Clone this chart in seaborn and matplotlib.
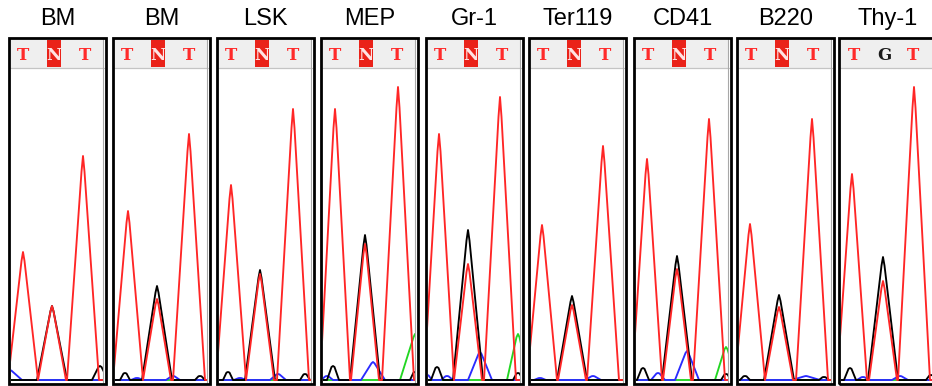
import numpy as np
import pandas as pd
import matplotlib
matplotlib.use("Agg")
import matplotlib.pyplot as plt
import seaborn as sns
from matplotlib.patches import Rectangle
from matplotlib.lines import Line2D

# ---------------- data ----------------
titles = ["BM", "BM", "LSK", "MEP", "Gr-1", "Ter119", "CD41", "B220", "Thy-1"]
base_calls = [["T", "N", "T"]] * 8 + [["T", "G", "T"]]

# red (T) trace: peak positions / heights per panel
red_pos = [[15, 44, 75], [16, 45, 77], [15, 44, 77], [15, 45, 78], [14, 43, 75],
           [14, 44, 75], [14, 44, 76], [14, 43, 76], [14, 45, 76]]
red_h = [[128, 74, 224], [169, 81, 246], [195, 106, 271], [271, 136, 293], [246, 116, 283],
         [155, 75, 234], [221, 111, 261], [156, 73, 261], [206, 99, 293]]
red_w = [15, 14, 16]

# black (G) trace: (position, height, half-width)
black_peaks = [
    [(44, 74, 15), (92, 14, 8)],
    [(13, 7, 5), (45, 94, 15), (88, 4, 5)],
    [(12, 8, 5), (44, 110, 15), (89, 6, 5)],
    [(13, 14, 6), (45, 145, 15), (95, 8, 5)],
    [(12, 13, 6), (43, 150, 15), (93, 7, 5)],
    [(44, 84, 15)],
    [(10, 12, 6), (44, 124, 15), (93, 6, 5)],
    [(9, 4, 5), (43, 85, 15), (88, 3, 5)],
    [(12, 12, 6), (45, 123, 15), (93, 5, 5)],
]
# blue (C) trace
blue_peaks = [
    [(2, 10, 12)],
    [(25, 2, 6), (61, 4, 7)],
    [(24, 2, 6), (62, 6, 8)],
    [(7, 4, 6), (53, 18, 12)],
    [(2, 5, 5), (22, 4, 6), (55, 28, 12)],
    [(12, 2, 6), (65, 4, 8)],
    [(25, 7, 7), (54, 29, 12)],
    [(70, 4, 14)],
    [(25, 3, 6), (62, 4, 8)],
]
# green (A) trace
green_peaks = [[], [], [], [(95, 46, 15)], [(93, 46, 11)], [], [(93, 33, 11)], [], []]

# ---------------- layout ----------------
W, H = 932, 386
panel_left = [8, 112, 216, 320, 425, 528, 633, 736, 838]
palette = {"A": "#22d622", "C": "#2a2aff", "G": "#000000", "T": "#ff2626"}

sns.set_style("white")
plt.rcParams["font.family"] = ["Liberation Sans", "DejaVu Sans"]

fig = plt.figure(figsize=(W / 100, H / 100), dpi=100)


def fx(x):
    return x / W


def fy(y):
    return 1 - y / H


def build_trace(peaks):
    knots = {0.0, 98.0}
    for c, h, w in peaks:
        for k in (c - w, c - 1.5, c, c + 1.5, c + w):
            if 0 <= k <= 98:
                knots.add(float(k))
    xs = np.array(sorted(knots))
    ys = np.zeros_like(xs)
    for c, h, w in peaks:
        ys = np.maximum(ys, np.interp(xs, [c - w, c - 1.5, c, c + 1.5, c + w],
                                      [0, 0.93 * h, h, 0.93 * h, 0], left=0, right=0))
    return xs, ys


for i, L in enumerate(panel_left):
    red_peaks = [(p, h, w) for p, h, w in zip(red_pos[i], red_h[i], red_w)]
    frames = []
    for ch, pk in (("A", green_peaks[i]), ("C", blue_peaks[i]),
                   ("G", black_peaks[i]), ("T", red_peaks)):
        xs, ys = build_trace(pk)
        frames.append(pd.DataFrame({"x": xs, "y": ys, "ch": ch}))
    df = pd.concat(frames, ignore_index=True)

    ax = fig.add_axes([fx(L + 2.5), fy(382), 92.5 / W, (382 - 69) / H])
    sns.lineplot(data=df, x="x", y="y", hue="ch", hue_order=["A", "C", "G", "T"],
                 palette=palette, sort=False, estimator=None, legend=False,
                 lw=1.35, ax=ax)
    ax.set_xlim(2.5, 95)
    ax.set_ylim(-2, 311)
    ax.axis("off")

    # header strip
    fig.add_artist(Rectangle((fx(L + 2), fy(68)), 93.5 / W, 29 / H,
                             transform=fig.transFigure, facecolor="#efefef",
                             edgecolor="none", zorder=2))
    fig.add_artist(Line2D([fx(L + 2), fx(L + 95.5)], [fy(68), fy(68)],
                          transform=fig.transFigure, color="#c4c4c4", lw=0.9, zorder=3))
    # inner grey right line
    fig.add_artist(Line2D([fx(L + 95), fx(L + 95)], [fy(39), fy(383)],
                          transform=fig.transFigure, color="#a8a8a8", lw=0.8, zorder=3))
    # base calls
    xs_letters = [15, 46, 77] if i < 8 else [16, 46, 75]
    for j, b in enumerate(base_calls[i]):
        if b == "N":
            fig.add_artist(Rectangle((fx(L + 39), fy(67)), 14 / W, 27 / H,
                                     transform=fig.transFigure, facecolor="#ea2219",
                                     edgecolor="none", zorder=4))
            col = "#ffe4e4"
        elif b == "G":
            col = "#1a1a1a"
        else:
            col = "#ff2a2a"
        fig.text(fx(L + xs_letters[j]), fy(55), b, ha="center", va="center",
                 fontsize=12, fontweight="bold", family=["DejaVu Serif"],
                 color=col, zorder=5)
    # outer black frame
    fig.add_artist(Rectangle((fx(L + 1.3), fy(383.7)), 96.4 / W, 345.4 / H,
                             transform=fig.transFigure, facecolor="none",
                             edgecolor="black", lw=2.0, zorder=6))
    # title
    fig.text(fx(L + 49.5), fy(19), titles[i], ha="center", va="center",
             fontsize=17, color="black")

fig.savefig("out.png", dpi=100)
